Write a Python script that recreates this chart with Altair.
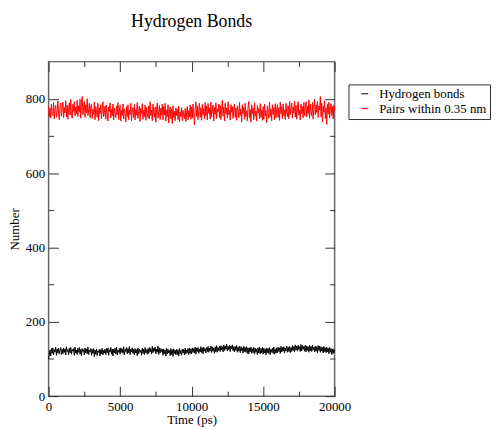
import altair as alt
import pandas as pd

# ---------------- data ----------------
time_ps = list(range(0, 20001, 50))

hbonds = [
    100, 112, 124, 108, 128, 115, 130, 111, 125, 119, 132, 110, 127, 116, 129, 113, 124, 131, 112, 126,
    114, 130, 118, 127, 111, 133, 120, 125, 112, 129, 117, 131, 113, 126, 121, 128, 110, 132, 116, 124,
    112, 129, 118, 131, 113, 126, 109, 128, 120, 125, 111, 130, 116, 127, 114, 132, 112, 124, 119, 128,
    110, 126, 115, 128, 106, 124, 113, 127, 109, 122, 118, 126, 108, 125, 114, 129, 111, 123, 116, 127,
    112, 128, 117, 130, 110, 125, 119, 131, 113, 127, 108, 126, 116, 129, 114, 132, 111, 124, 118, 128,
    113, 130, 118, 127, 115, 133, 111, 126, 120, 131, 114, 128, 117, 134, 112, 127, 119, 130, 115, 126,
    111, 128, 116, 125, 109, 130, 114, 127, 118, 124, 110, 129, 115, 126, 112, 131, 117, 125, 113, 128,
    115, 131, 119, 128, 113, 134, 117, 129, 121, 132, 114, 127, 118, 135, 112, 130, 116, 128, 120, 126,
    110, 127, 114, 124, 108, 129, 113, 126, 116, 123, 109, 128, 112, 125, 107, 127, 115, 124, 111, 126,
    112, 125, 108, 128, 114, 123, 110, 127, 116, 126, 111, 129, 113, 124, 117, 128, 112, 130, 115, 127,
    114, 130, 118, 128, 116, 132, 113, 129, 120, 131, 115, 127, 119, 133, 117, 130, 114, 132, 121, 128,
    116, 131, 120, 134, 118, 129, 122, 135, 117, 132, 121, 130, 115, 133, 119, 136, 118, 131, 123, 134,
    120, 136, 124, 133, 119, 138, 123, 135, 126, 140, 121, 134, 125, 137, 120, 135, 127, 138, 122, 133,
    119, 134, 123, 136, 118, 132, 121, 135, 117, 133, 122, 130, 116, 134, 120, 131, 118, 133, 115, 130,
    114, 130, 119, 132, 115, 128, 117, 131, 113, 129, 118, 127, 112, 130, 116, 132, 114, 128, 117, 131,
    113, 129, 116, 127, 111, 130, 117, 128, 114, 131, 112, 126, 118, 129, 115, 132, 113, 127, 116, 130,
    117, 132, 120, 130, 115, 134, 119, 131, 121, 133, 116, 129, 122, 135, 118, 132, 120, 134, 117, 131,
    120, 136, 123, 134, 119, 138, 124, 135, 121, 137, 125, 133, 120, 139, 122, 136, 126, 134, 121, 137,
    119, 135, 123, 133, 118, 136, 122, 134, 120, 137, 124, 132, 119, 135, 121, 133, 117, 136, 123, 134,
    118, 133, 121, 131, 116, 134, 120, 130, 117, 132, 119, 129, 114, 131, 118, 128, 112, 127, 115, 126,
    118,
]

pairs = [
    780, 752, 774, 748, 786, 760, 755, 790, 746, 772, 782, 750, 768, 794, 758, 744, 779, 788, 753, 770,
    791, 749, 776, 762, 795, 751, 783, 745, 772, 789, 756, 798, 760, 748, 785, 766, 792, 754, 778, 760,
    796, 752, 781, 765, 799, 748, 787, 806, 757, 776, 793, 750, 784, 762, 800, 755, 770, 788, 749, 779,
    786, 747, 772, 758, 791, 744, 779, 765, 750, 788, 741, 776, 760, 784, 746, 770, 792, 752, 763, 781,
    745, 783, 759, 740, 778, 766, 789, 748, 771, 754, 786, 743, 775, 762, 749, 781, 757, 790, 744, 770,
    782, 740, 768, 755, 786, 746, 773, 761, 738, 779, 752, 784, 744, 770, 758, 788, 741, 767, 776, 749,
    785, 743, 771, 756, 790, 747, 766, 780, 739, 774, 760, 787, 745, 769, 752, 783, 742, 777, 763, 748,
    781, 746, 792, 755, 770, 741, 786, 764, 750, 778, 737, 772, 789, 748, 765, 782, 744, 775, 757, 786,
    743, 779, 756, 788, 740, 770, 752, 784, 735, 767, 778, 746, 773, 733, 781, 750, 766, 741, 776, 755,
    772, 744, 780, 738, 765, 752, 776, 741, 769, 756, 747, 774, 739, 762, 779, 743, 768, 751, 783, 745,
    778, 748, 786, 760, 730, 772, 792, 753, 781, 744, 769, 788, 750, 776, 742, 785, 757, 773, 746, 790,
    754, 780, 743, 787, 761, 775, 745, 791, 752, 770, 783, 740, 777, 758, 789, 747, 773, 764, 786, 749,
    782, 744, 771, 796, 753, 778, 740, 788, 760, 775, 748, 792, 757, 769, 743, 784, 764, 779, 747, 773,
    786, 750, 775, 742, 781, 766, 749, 790, 755, 772, 738, 784, 760, 777, 745, 788, 752, 768, 741, 779,
    793, 748, 771, 737, 784, 759, 776, 744, 789, 753, 767, 740, 782, 761, 774, 746, 787, 750, 770, 742,
    779, 745, 786, 754, 768, 736, 781, 760, 747, 790, 752, 773, 741, 784, 758, 776, 744, 787, 749, 771,
    784, 750, 776, 742, 791, 760, 779, 747, 786, 755, 770, 744, 788, 763, 752, 781, 746, 793, 757, 774,
    789, 748, 778, 762, 794, 751, 783, 745, 775, 792, 756, 770, 743, 786, 760, 779, 749, 790, 754, 776,
    792, 751, 780, 760, 797, 748, 786, 766, 754, 790, 745, 778, 799, 757, 784, 763, 793, 750, 781, 770,
    806, 752, 788, 738, 780, 764, 795, 747, 776, 731, 785, 759, 791, 748, 772, 787, 755, 779, 746, 783,
    768,
]

series_names = ["Hydrogen bonds", "Pairs within 0.35 nm"]
series_colors = ["black", "red"]

x_major = [0, 5000, 10000, 15000, 20000]
x_minor = [2500, 7500, 12500, 17500]
y_major = [0, 200, 400, 600, 800]
y_minor = [100, 300, 500, 700]

df = pd.concat(
    [
        pd.DataFrame({"time": time_ps, "value": hbonds, "series": series_names[0]}),
        pd.DataFrame({"time": time_ps, "value": pairs, "series": series_names[1]}),
    ],
    ignore_index=True,
)

FONT = "Liberation Serif"
TICK_COLOR = "#333333"

xs = alt.Scale(domain=[0, 20000], nice=False, zero=False)
ys = alt.Scale(domain=[0, 900], nice=False, zero=False)


def tick_axis(orient, values, size, labels=False, title=None, **kw):
    return alt.Axis(
        orient=orient,
        values=values,
        tickSize=size,
        offset=-size,
        domain=False,
        grid=False,
        labels=labels,
        title=title,
        tickColor=TICK_COLOR,
        tickWidth=1,
        **kw,
    )


main = (
    alt.Chart(df)
    .mark_line(strokeWidth=1)
    .encode(
        x=alt.X(
            "time:Q",
            scale=xs,
            axis=tick_axis(
                "bottom", x_major, 10, labels=True, title="Time (ps)",
                labelPadding=5, titlePadding=0, format="d", labelFlush=False,
            ),
        ),
        y=alt.Y(
            "value:Q",
            scale=ys,
            axis=tick_axis(
                "left", y_major, 10, labels=True, title="Number",
                labelPadding=4, titlePadding=4, format="d", labelFlush=False,
            ),
        ),
        color=alt.Color(
            "series:N",
            scale=alt.Scale(domain=series_names, range=series_colors),
            legend=alt.Legend(
                orient="none",
                legendX=303,
                legendY=23,
                title=None,
                symbolType="stroke",
                symbolSize=49,
                symbolStrokeWidth=1,
                labelFont=FONT,
                labelFontSize=13,
                labelColor="black",
                labelLimit=300,
                strokeColor="#333333",
                fillColor="white",
                padding=3,
                symbolOffset=7,
                labelOffset=8,
                rowPadding=1,
            ),
        ),
        order="time:Q",
    )
)


def ghost(x_axis, y_axis):
    return (
        alt.Chart(df)
        .mark_point(opacity=0)
        .encode(
            x=alt.X("time:Q", scale=xs, axis=x_axis),
            y=alt.Y("value:Q", scale=ys, axis=y_axis),
        )
    )


minor_bl = ghost(tick_axis("bottom", x_minor, 5), tick_axis("left", y_minor, 5))
major_tr = ghost(tick_axis("top", x_major, 10), tick_axis("right", y_major, 10))
minor_tr = ghost(tick_axis("top", x_minor, 5), tick_axis("right", y_minor, 5))

chart = (
    alt.layer(main, minor_bl, major_tr, minor_tr)
    .resolve_axis(x="independent", y="independent")
    .properties(
        width=289,
        height=338,
        autosize=alt.AutoSizeParams(type="none"),
        padding={"left": 41, "top": 52, "right": 158, "bottom": 30},
        title=alt.TitleParams(
            "Hydrogen Bonds",
            font=FONT,
            fontSize=18,
            fontWeight="normal",
            color="black",
            anchor="middle",
            frame="group",
            baseline="alphabetic",
            offset=16,
        ),
        background="white",
    )
    .configure_view(stroke="#666666", strokeWidth=1.5)
    .configure_axis(
        labelFont=FONT,
        labelFontSize=13,
        labelColor="black",
        titleFont=FONT,
        titleFontSize=13,
        titleFontWeight="normal",
        titleColor="black",
    )
)

chart.save("out.html", embed_options={"renderer": "svg", "actions": False})
